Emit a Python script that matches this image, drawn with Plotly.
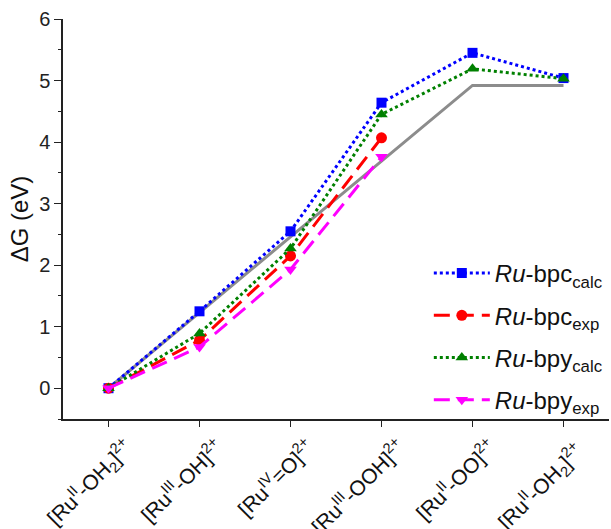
import plotly.graph_objects as go

categories = ["[Ru<sup>II</sup>-OH<sub>2</sub>]<sup>2+</sup>",
              "[Ru<sup>III</sup>-OH]<sup>2+</sup>",
              "[Ru<sup>IV</sup>=O]<sup>2+</sup>",
              "[Ru<sup>III</sup>-OOH]<sup>2+</sup>",
              "[Ru<sup>II</sup>-OO]<sup>2+</sup>",
              "[Ru<sup>II</sup>-OH<sub>2</sub>]<sup>2+</sup> "]
x_idx = [0, 1, 2, 3, 4, 5]

ideal = [0, 1.23, 2.46, 3.69, 4.92, 4.92]
bpc_calc = [0, 1.25, 2.55, 4.64, 5.45, 5.04]
bpc_exp = [0, 0.78, 2.15, 4.07]
bpy_calc = [0, 0.89, 2.27, 4.45, 5.19, 5.03]
bpy_exp = [0, 0.67, 1.93, 3.76]

FONT = "Arial, Liberation Sans, sans-serif"

fig = go.Figure()
fig.add_trace(go.Scatter(x=x_idx, y=ideal, mode="lines",
                         line=dict(color="#8c8c8c", width=3),
                         showlegend=False, hoverinfo="skip"))
fig.add_trace(go.Scatter(x=x_idx, y=bpc_calc, mode="lines+markers",
                         name="<i>Ru</i>-bpc<sub>calc</sub>", legendgroup="a",
                         line=dict(color="#0000ff", width=3, dash="dot"),
                         marker=dict(symbol="square", size=10, color="#0000ff")))
fig.add_trace(go.Scatter(x=x_idx[:4], y=bpc_exp, mode="lines+markers",
                         name="<i>Ru</i>-bpc<sub>exp</sub>", legendgroup="b",
                         line=dict(color="#ff0000", width=3, dash="16px,8px"),
                         marker=dict(symbol="circle", size=11, color="#ff0000")))
fig.add_trace(go.Scatter(x=x_idx, y=bpy_calc, mode="lines+markers",
                         name="<i>Ru</i>-bpy<sub>calc</sub>", legendgroup="c",
                         line=dict(color="#008000", width=3, dash="dot"),
                         marker=dict(symbol="triangle-up", size=11, color="#008000")))
fig.add_trace(go.Scatter(x=x_idx[:4], y=bpy_exp, mode="lines+markers",
                         name="<i>Ru</i>-bpy<sub>exp</sub>", legendgroup="d",
                         line=dict(color="#ff00ff", width=3, dash="16px,8px"),
                         marker=dict(symbol="triangle-down", size=11, color="#ff00ff")))

fig.update_layout(
    width=611, height=529,
    margin=dict(l=63, r=2, t=19, b=110),
    paper_bgcolor="white", plot_bgcolor="white",
    font=dict(family=FONT, size=19, color="#222"),
    legend=dict(x=0.67, y=0.42, xanchor="left", yanchor="top",
                font=dict(family=FONT, size=24, color="#111"),
                bgcolor="rgba(0,0,0,0)", itemwidth=56, tracegroupgap=8),
    xaxis=dict(range=[-0.5, 5.5], tickmode="array", tickvals=x_idx,
               ticktext=categories, tickangle=-45, showgrid=False,
               zeroline=False, showline=True, linecolor="#222", linewidth=1.5,
               ticks="outside", ticklen=6, tickcolor="#222", automargin=False,
               ticklabelshift=18,
               tickfont=dict(family=FONT, size=21, color="#111")),
    yaxis=dict(range=[-0.5, 6], tickvals=[0, 1, 2, 3, 4, 5, 6], showgrid=False,
               zeroline=False, showline=True, linecolor="#222", linewidth=1.5,
               ticks="outside", ticklen=7, tickcolor="#222",
               minor=dict(ticks="outside", ticklen=3, dtick=0.5, tickcolor="#222"),
               title=dict(text="ΔG (eV)", font=dict(family=FONT, size=24, color="#111"), standoff=4),
               tickfont=dict(family=FONT, size=20, color="#222"), automargin=False),
)

fig.write_html("out.html")
